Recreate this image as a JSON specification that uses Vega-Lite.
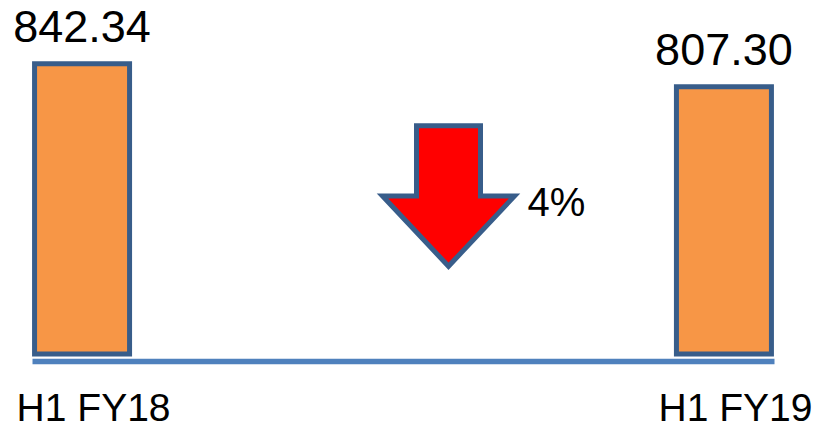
{
  "$schema": "https://vega.github.io/schema/vega-lite/v6.json",
  "width": 742,
  "height": 328,
  "autosize": {"type": "none"},
  "padding": {"left": 32, "top": 26, "right": 39, "bottom": 73},
  "background": "white",
  "config": {"view": {"stroke": null}, "font": "Liberation Sans"},
  "layer": [
    {
      "data": {"values": [
        {"period": "H1 FY18", "value": 842.34},
        {"period": "H1 FY19", "value": 807.30}
      ]},
      "encoding": {
        "x": {
          "field": "period", "type": "nominal", "sort": null,
          "scale": {"type": "point", "padding": 0.078},
          "axis": {
            "title": null, "domainColor": "#4F81BD", "domainWidth": 5.5, "domainCap": "butt", "domainOpacity": 1,
            "ticks": false, "tickSize": 0, "grid": false, "labelAngle": 0,
            "labelFont": "Liberation Sans", "labelFontSize": 39, "labelColor": "black",
            "labelPadding": 59, "labelBaseline": "alphabetic", "labelOffset": 11, "offset": 7
          }
        },
        "y": {"field": "value", "type": "quantitative", "scale": {"domain": [400, 900], "zero": false}, "axis": null}
      },
      "layer": [
        {
          "mark": {"type": "bar", "width": 95, "fill": "#F79646", "stroke": "#385D8A", "strokeWidth": 5},
          "encoding": {"y2": {"datum": 400}}
        },
        {
          "mark": {"type": "text", "dy": -22, "baseline": "alphabetic", "align": "center", "fontSize": 45, "color": "black", "font": "Liberation Sans"},
          "encoding": {"text": {"field": "value", "type": "quantitative", "format": ".2f"}}
        }
      ]
    },
    {
      "data": {"values": [{"change": "4%"}]},
      "layer": [
        {
          "mark": {
            "type": "point",
            "shape": "M-0.4555,-1 L0.4555,-1 L0.4555,0 L0.9395,0 L0,1 L-0.9395,0 L-0.4555,0 Z",
            "size": 19740, "filled": true, "fill": "#FF0000", "stroke": "#385D8A", "strokeWidth": 5,
            "opacity": 1, "fillOpacity": 1, "strokeOpacity": 1, "xOffset": 45.5, "yOffset": 6
          },
          "encoding": {}
        },
        {
          "mark": {"type": "text", "align": "center", "baseline": "alphabetic", "dx": 153.5, "dy": 26, "fontSize": 40, "color": "black", "font": "Liberation Sans"},
          "encoding": {"text": {"field": "change", "type": "nominal"}}
        }
      ]
    }
  ]
}
